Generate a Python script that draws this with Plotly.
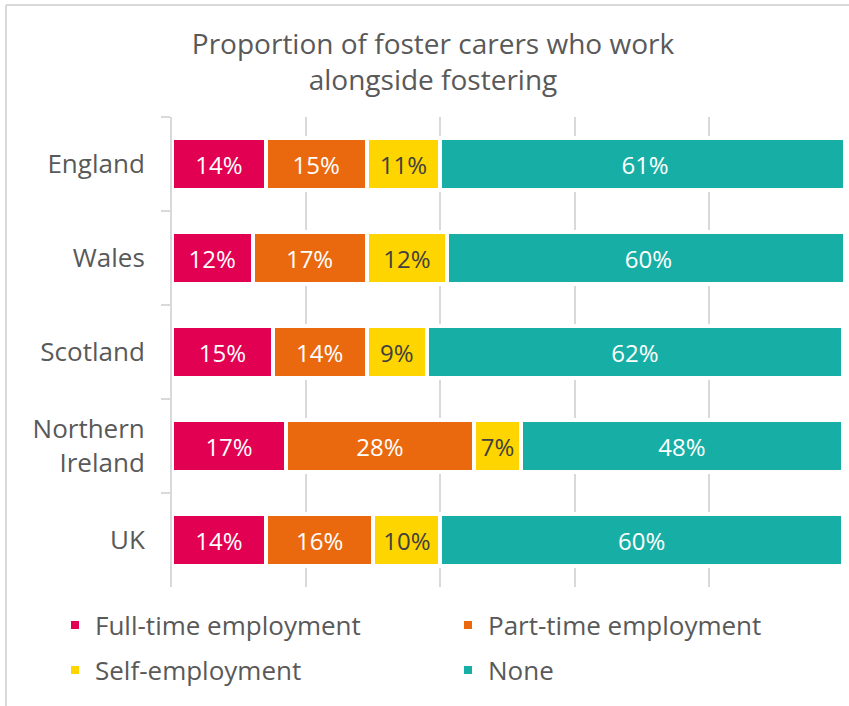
import plotly.graph_objects as go

# Survey results: share of foster carers by work status, per nation
nations = ["England", "Wales", "Scotland", "Northern<br>Ireland", "UK"]
full_time = [14, 12, 15, 17, 14]
part_time = [15, 17, 14, 28, 16]
self_employed = [11, 12, 9, 7, 10]
no_work = [61, 60, 62, 48, 60]

series_names = ["Full-time employment", "Part-time employment", "Self-employment", "None"]
series_values = [full_time, part_time, self_employed, no_work]
series_colors = ["#E10052", "#EA690F", "#FFD500", "#17AFA5"]
label_colors = ["#FFFFFF", "#FFFFFF", "#404040", "#FFFFFF"]
legend_ids = ["legend", "legend", "legend2", "legend2"]

FONT = "Open Sans"
GREY_TEXT = "#595959"
GRID = "#D9D9D9"

W, H = 849, 706
M_L, M_R, M_T, M_B = 172, 6, 117, 119
plot_w = W - M_L - M_R
plot_h = H - M_T - M_B


def px_to_paper_x(px):
    return (px - M_L) / plot_w


def px_to_paper_y(py):
    return (H - M_B - py) / plot_h


fig = go.Figure()
for name, vals, col, tcol, lg in zip(series_names, series_values, series_colors, label_colors, legend_ids):
    fig.add_trace(go.Bar(
        y=nations,
        x=vals,
        name=name,
        orientation="h",
        marker=dict(color=col, line=dict(color="#FFFFFF", width=4)),
        texttemplate="%{x}%",
        textposition="inside",
        insidetextanchor="middle",
        constraintext="none",
        textfont=dict(family=FONT, size=24, color=tcol),
        legend=lg,
        hoverinfo="skip",
    ))

legend_common = dict(
    orientation="h",
    xref="paper",
    yref="paper",
    xanchor="left",
    yanchor="middle",
    x=px_to_paper_x(55),
    entrywidth=348,
    entrywidthmode="pixels",
    font=dict(family=FONT, size=26, color=GREY_TEXT),
    bgcolor="rgba(0,0,0,0)",
    traceorder="normal",
)

fig.update_layout(
    width=W,
    height=H,
    barmode="stack",
    bargap=0.447,
    margin=dict(l=M_L, r=M_R, t=M_T, b=M_B),
    paper_bgcolor="#FFFFFF",
    plot_bgcolor="#FFFFFF",
    font=dict(family=FONT, color=GREY_TEXT),
    title=dict(
        text="Proportion of foster carers who work<br>alongside fostering",
        x=433 / W,
        xanchor="center",
        xref="container",
        y=1 - 54 / H,
        yanchor="middle",
        yref="container",
        font=dict(family=FONT, size=28, color=GREY_TEXT),
    ),
    xaxis=dict(
        range=[0, 100],
        dtick=20,
        showgrid=True,
        gridcolor=GRID,
        gridwidth=2,
        zeroline=False,
        showticklabels=False,
        showline=False,
        fixedrange=True,
    ),
    yaxis=dict(
        autorange="reversed",
        showline=True,
        linecolor=GRID,
        linewidth=2,
        ticks="outside",
        tickson="boundaries",
        ticklen=9,
        tickwidth=2,
        tickcolor=GRID,
        ticklabelstandoff=20,
        tickfont=dict(family=FONT, size=26, color=GREY_TEXT),
        showgrid=False,
        fixedrange=True,
    ),
    legend=dict(legend_common, y=px_to_paper_y(625)),
    legend2=dict(legend_common, y=px_to_paper_y(670)),
    showlegend=True,
    shapes=[
        # outer frame along the top and left edges
        dict(type="line", xref="paper", yref="paper",
             x0=px_to_paper_x(6), x1=px_to_paper_x(W + 10),
             y0=px_to_paper_y(5), y1=px_to_paper_y(5),
             line=dict(color=GRID, width=2)),
        dict(type="line", xref="paper", yref="paper",
             x0=px_to_paper_x(6), x1=px_to_paper_x(6),
             y0=px_to_paper_y(5), y1=px_to_paper_y(H + 10),
             line=dict(color=GRID, width=2)),
    ],
)

fig.write_html("out.html")
